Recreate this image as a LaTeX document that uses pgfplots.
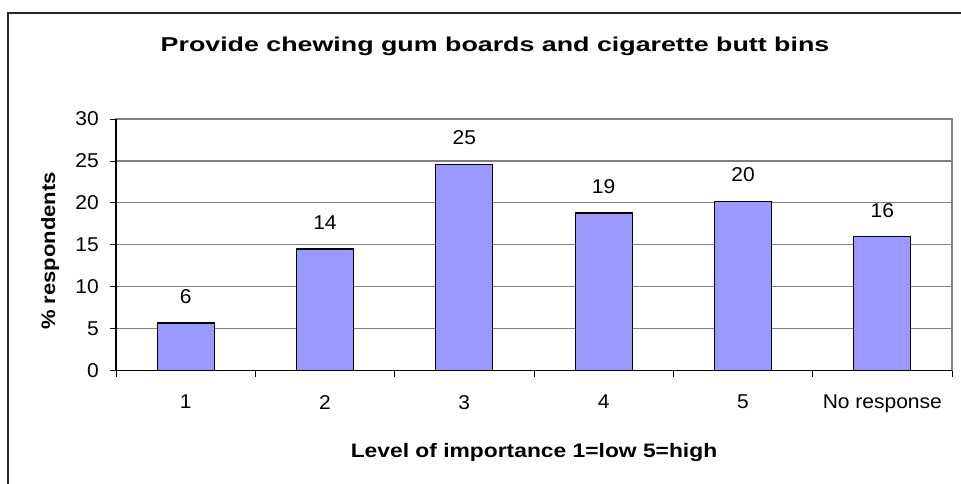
\documentclass[border=0pt]{standalone}
\usepackage{pgfplots}
\pgfplotsset{compat=1.18}
\usepackage{pgfplotstable}
\usepackage{fontspec}
\setmainfont{Liberation Sans}
\newfontfamily\titlefont{Liberation Sans}[FakeStretch=1.34]
\newfontfamily\numfont{Liberation Sans}[FakeStretch=1.05]
\newfontfamily\xlabfont{Liberation Sans}[FakeStretch=1.17]
\newfontfamily\ylabfont{Liberation Sans}[FakeStretch=1.13]
\definecolor{barblue}{RGB}{153,153,255}
\definecolor{gridgray}{RGB}{128,128,128}

\pgfplotstableread{
x y label
0 5.7 6
1 14.5 14
2 24.6 25
3 18.8 19
4 20.2 20
5 16.0 16
}\datatable

\begin{document}
\begin{tikzpicture}[x=1pt,y=1pt]
\useasboundingbox (0,0) rectangle (961,483);
\draw[line width=1.3pt, black!85] (8,-5) -- (8,470) -- (970,470);
\begin{axis}[
  at={(116pt,112.3pt)}, anchor=south west,
  scale only axis, width=836pt, height=251.7pt,
  ybar, bar width=57pt,
  xmin=-0.5, xmax=5.5, ymin=0, ymax=30,
  ytick={0,5,...,30},
  xtick={-0.5,0.5,1.5,2.5,3.5,4.5,5.5},
  xticklabels={},
  extra x ticks={0,1,2,3,4,5},
  extra x tick labels={1,2,3,4,5,No response},
  extra x tick style={major tick length=0pt},
  xtick pos=bottom, ytick pos=left,
  tick align=outside, major tick length=6pt,
  tick style={black, line width=0.9pt},
  ymajorgrids, grid style={gridgray, line width=1.1pt},
  axis line style={gridgray, line width=1.1pt},
  /pgf/number format/assume math mode=true,
  tick label style={font=\numfont\fontsize{20}{24}\selectfont},
  xticklabel style={anchor=north, inner sep=0pt, yshift=-24.3pt},
  yticklabel style={anchor=east, inner sep=0pt, xshift=-11pt},
  clip=false,
]
\addplot[fill=barblue, draw=black, line width=1.3pt,
  nodes near coords, point meta=explicit symbolic,
  every node near coord/.append style={font=\numfont\fontsize{20}{24}\selectfont, anchor=base, yshift=19.4pt, inner sep=0pt, black}]
  table[x=x, y=y, meta=label]{\datatable};
\draw[black, line width=1.2pt] (rel axis cs:0,1) -- (rel axis cs:0,0) -- (rel axis cs:1,0);
\end{axis}
\node[font=\titlefont\bfseries\fontsize{20}{24}\selectfont, anchor=base] at (495,431.3) {Provide chewing gum boards and cigarette butt bins};
\node[font=\xlabfont\bfseries\fontsize{19.5}{23}\selectfont, anchor=base] at (534,26) {Level of importance 1=low 5=high};
\node[font=\ylabfont\bfseries\fontsize{19.5}{23}\selectfont, rotate=90] at (50,232) {\% respondents};
\end{tikzpicture}
\end{document}
